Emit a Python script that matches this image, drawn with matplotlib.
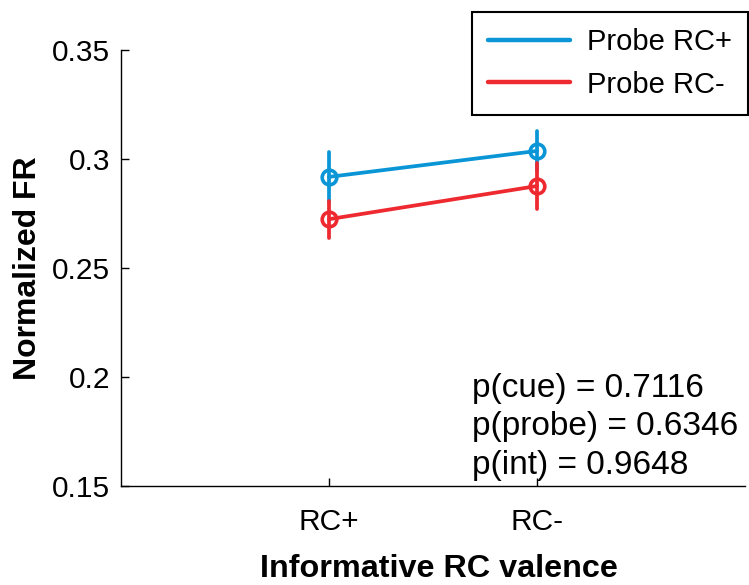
import numpy as np
import matplotlib.pyplot as plt
from matplotlib.lines import Line2D

plt.rcParams['font.family'] = ['Liberation Sans', 'DejaVu Sans']

#===============================================================================
# data
categories = ['RC+', 'RC-']
probe_pos_mean = [0.2918, 0.3037]
probe_pos_err = [0.0114, 0.0093]
probe_neg_mean = [0.2724, 0.2876]
probe_neg_err = [0.0085, 0.0106]
series_names = ['Probe RC+', 'Probe RC-']
stats_text = ['p(cue) = 0.7116', 'p(probe) = 0.6346', 'p(int) = 0.9648']
yticks = [0.15, 0.2, 0.25, 0.3, 0.35]
ytick_labels = ['0.15', '0.2', '0.25', '0.3', '0.35']

blue = '#0a96d6'
red = '#ee2a30'

#===============================================================================
fig = plt.figure(figsize=(7.49, 5.85), dpi=100)
ax = fig.add_axes([121/749, 99/585, 624/749, 436/585])

x = np.arange(1, len(categories) + 1)
for mean, err, col in [(probe_pos_mean, probe_pos_err, blue), (probe_neg_mean, probe_neg_err, red)]:
    eb = ax.errorbar(x, mean, yerr=err, color=col, lw=2.7, elinewidth=2.7, capsize=0,
                     marker='o', markersize=10.5, markerfacecolor='none', markeredgewidth=2.6,
                     solid_capstyle='round')
    for c in eb[2]:
        c.set_capstyle('round')

ax.set_xlim(0, 3)
ax.set_ylim(0.15, 0.35)
ax.set_xticks(x)
ax.set_xticklabels(categories)
ax.set_yticks(yticks)
ax.set_yticklabels(ytick_labels)
ax.tick_params(direction='in', length=6, width=1, labelsize=21.5)
ax.tick_params(axis='y', pad=8)
ax.tick_params(axis='x', pad=16)
for s in ['top', 'right']:
    ax.spines[s].set_visible(False)
for s in ['left', 'bottom']:
    ax.spines[s].set_linewidth(1)

ax.set_xlabel('Informative RC valence', fontsize=23.3, fontweight='bold')
ax.xaxis.set_label_coords(0.51, -0.155)
ax.set_ylabel('Normalized FR', fontsize=23, fontweight='bold', labelpad=6)

# stats text, one line each
for i, t in enumerate(stats_text):
    ax.text(1.6875, 0.1948 - i * 0.0176, t, fontsize=24, va='center', ha='left')

handles = [Line2D([], [], color=blue, lw=3.2, solid_capstyle='round'),
           Line2D([], [], color=red, lw=3.2, solid_capstyle='round')]
leg = fig.legend(handles, series_names, loc='upper right', bbox_to_anchor=(748/749, 1 - 12/585),
                 fontsize=21, handlelength=2.8, frameon=True, fancybox=False, framealpha=1,
                 edgecolor='black', borderaxespad=0, labelspacing=0.5, borderpad=0.55, handletextpad=0.6)
leg.get_frame().set_linewidth(1.5)

fig.savefig('out.png', dpi=100)
